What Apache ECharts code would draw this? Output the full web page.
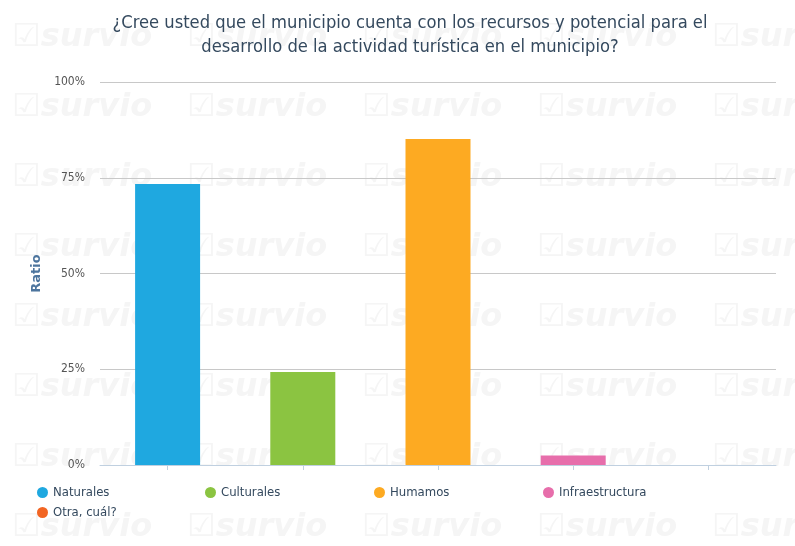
<!DOCTYPE html>
<html>
<head>
<meta charset="utf-8">
<script src="https://cdn.jsdelivr.net/npm/echarts@6/dist/echarts.min.js"></script>
<style>
  html, body { margin: 0; padding: 0; background: #fff; }
  #main { width: 795px; height: 546px; }
</style>
</head>
<body>
<div id="main"></div>
<script>
// datos
var categories = ['Naturales', 'Culturales', 'Humamos', 'Infraestructura', 'Otra, cuál?'];
var values = [73.4, 24.3, 85.1, 2.5, 0];
var colors = ['#1fa8e0', '#8bc441', '#fdaa22', '#e76eab', '#f26523'];
var yTicks = [0, 25, 50, 75, 100];

var chart = echarts.init(document.getElementById('main'));
var FONT = '"DejaVu Sans Condensed", "DejaVu Sans"';

// marca de agua
var marks = [];
for (var r = 0; r < 8; r++) {
  for (var c = 0; c < 5; c++) {
    marks.push({
      type: 'text', z: -10, silent: true,
      left: 12 + c * 175, top: 22 + r * 70,
      style: { text: '☑survio', fill: '#f5f5f5', font: 'italic bold 32px "DejaVu Sans"' }
    });
  }
}

var series = categories.map(function (name, i) {
  var d = categories.map(function (_, j) { return j === i ? values[i] : '-'; });
  return {
    name: name, type: 'bar', stack: 'all', data: d,
    barWidth: 65, itemStyle: { color: colors[i] }
  };
});

var legendPos = [[32, 481], [200, 481], [369, 481], [538, 481], [32, 501]];
var legends = categories.map(function (name, i) {
  return {
    data: [name], left: legendPos[i][0], top: legendPos[i][1],
    icon: 'circle', itemWidth: 11, itemHeight: 11, itemGap: 6,
    textStyle: { color: '#34495e', fontSize: 13, fontFamily: FONT }
  };
});

var option = {
  backgroundColor: '#fff',
  graphic: marks,
  title: {
    text: '¿Cree usted que el municipio cuenta con los recursos y potencial para el\ndesarrollo de la actividad turística en el municipio?',
    left: 405, top: 6,
    textAlign: 'center',
    textStyle: { color: '#34495e', fontSize: 18.2, fontWeight: 'normal', lineHeight: 24, fontFamily: FONT, align: 'center' }
  },
  legend: legends,
  grid: { left: 100, right: 19, top: 82, bottom: 81 },
  xAxis: {
    type: 'category', data: categories,
    axisLine: { lineStyle: { color: '#c0d0e0' } },
    axisTick: { show: true, length: 5, alignWithLabel: true, lineStyle: { color: '#c0d0e0' } },
    axisLabel: { show: false }
  },
  yAxis: {
    type: 'value', min: yTicks[0], max: yTicks[yTicks.length - 1], interval: 25,
    name: 'Ratio', nameLocation: 'middle', nameGap: 55, nameRotate: 90,
    nameTextStyle: { color: '#4d759e', fontWeight: 'bold', fontSize: 13, fontFamily: 'DejaVu Sans' },
    axisLabel: { formatter: '{value}%', color: '#555', fontSize: 12, margin: 15, fontFamily: FONT },
    splitLine: { lineStyle: { color: '#c8c8c8' } }
  },
  series: series
};
chart.setOption(option);
</script>
</body>
</html>
